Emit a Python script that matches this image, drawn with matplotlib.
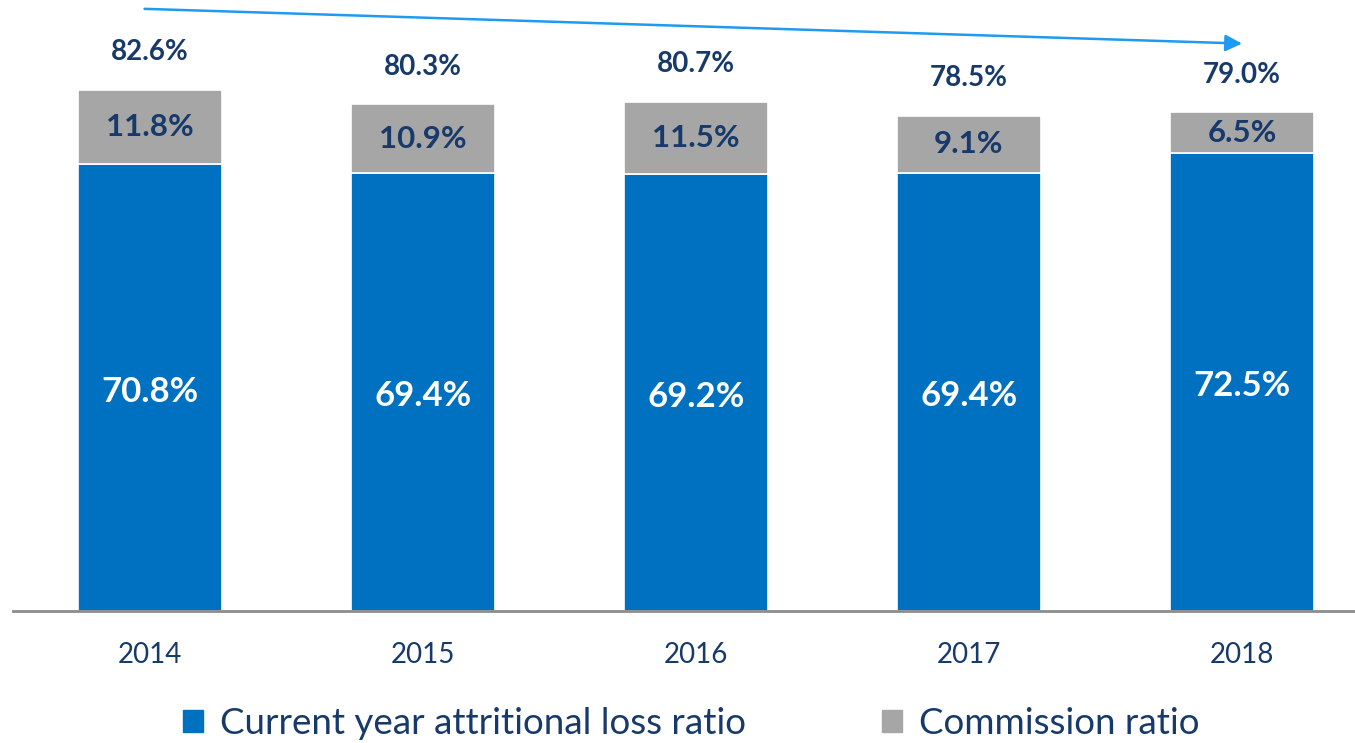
import matplotlib.pyplot as plt
from matplotlib.patches import Patch

# === DATA ===
years = ['2014', '2015', '2016', '2017', '2018']
loss_ratio = [70.8, 69.4, 69.2, 69.4, 72.5]
commission_ratio = [11.8, 10.9, 11.5, 9.1, 6.5]
combined = [82.6, 80.3, 80.7, 78.5, 79.0]

# === STYLE ===
blue = '#0070C0'
gray = '#A6A6A6'
navy = '#173A6B'
arrow_blue = '#1E9BF0'
plt.rcParams['font.family'] = ['Lato', 'DejaVu Sans']

fig = plt.figure(figsize=(13.55, 7.43), dpi=100)
ax = fig.add_axes([13 / 1355, 1 - 611 / 743, 1 - 13 / 1355, 611 / 743])

x = list(range(len(years)))
bw = 0.527
ax.bar(x, loss_ratio, width=bw, color=blue, edgecolor='white', linewidth=1.2)
ax.bar(x, commission_ratio, width=bw, bottom=loss_ratio, color=gray,
       edgecolor='white', linewidth=1.2)

for i in x:
    ax.annotate(f'{loss_ratio[i]:.1f}%', (i, loss_ratio[i] / 2), xytext=(0, -3),
                textcoords='offset points', ha='center', va='center',
                color='white', fontsize=25, fontweight='bold')
    ax.text(i, loss_ratio[i] + commission_ratio[i] / 2, f'{commission_ratio[i]:.1f}%',
            ha='center', va='center', color=navy, fontsize=22.5, fontweight='bold')
    ax.annotate(f'{combined[i]:.1f}%', (i, combined[i]), xytext=(0, 27),
                textcoords='offset points', ha='center', va='center',
                color=navy, fontsize=20, fontweight='bold')

# trend arrow
ax.annotate('', xy=(4.0, 89.9), xytext=(-0.02, 95.4),
            arrowprops=dict(arrowstyle='-|>,head_length=1.0,head_width=0.5',
                            color=arrow_blue, lw=1.8, shrinkA=0, shrinkB=0))

ax.set_xlim(-0.502, 4.414)
ax.set_ylim(0, 96.8)
ax.set_xticks(x)
ax.set_xticklabels(years, fontsize=20, color=navy)
ax.tick_params(axis='x', length=0, pad=22)
ax.set_yticks([])
for s in ['top', 'right', 'left']:
    ax.spines[s].set_visible(False)
ax.spines['bottom'].set_color('#8C8C8C')
ax.spines['bottom'].set_linewidth(2)

handles = [Patch(color=blue, label='Current year attritional loss ratio'),
           Patch(color=gray, label='Commission ratio')]
fig.legend(handles=handles, loc='center', bbox_to_anchor=(0.51, 0.026), ncol=2,
           frameon=False, fontsize=26.5, labelcolor=navy, handlelength=0.55,
           handleheight=0.55, handletextpad=0.45, columnspacing=3.7)

fig.savefig('out.png', dpi=100)
